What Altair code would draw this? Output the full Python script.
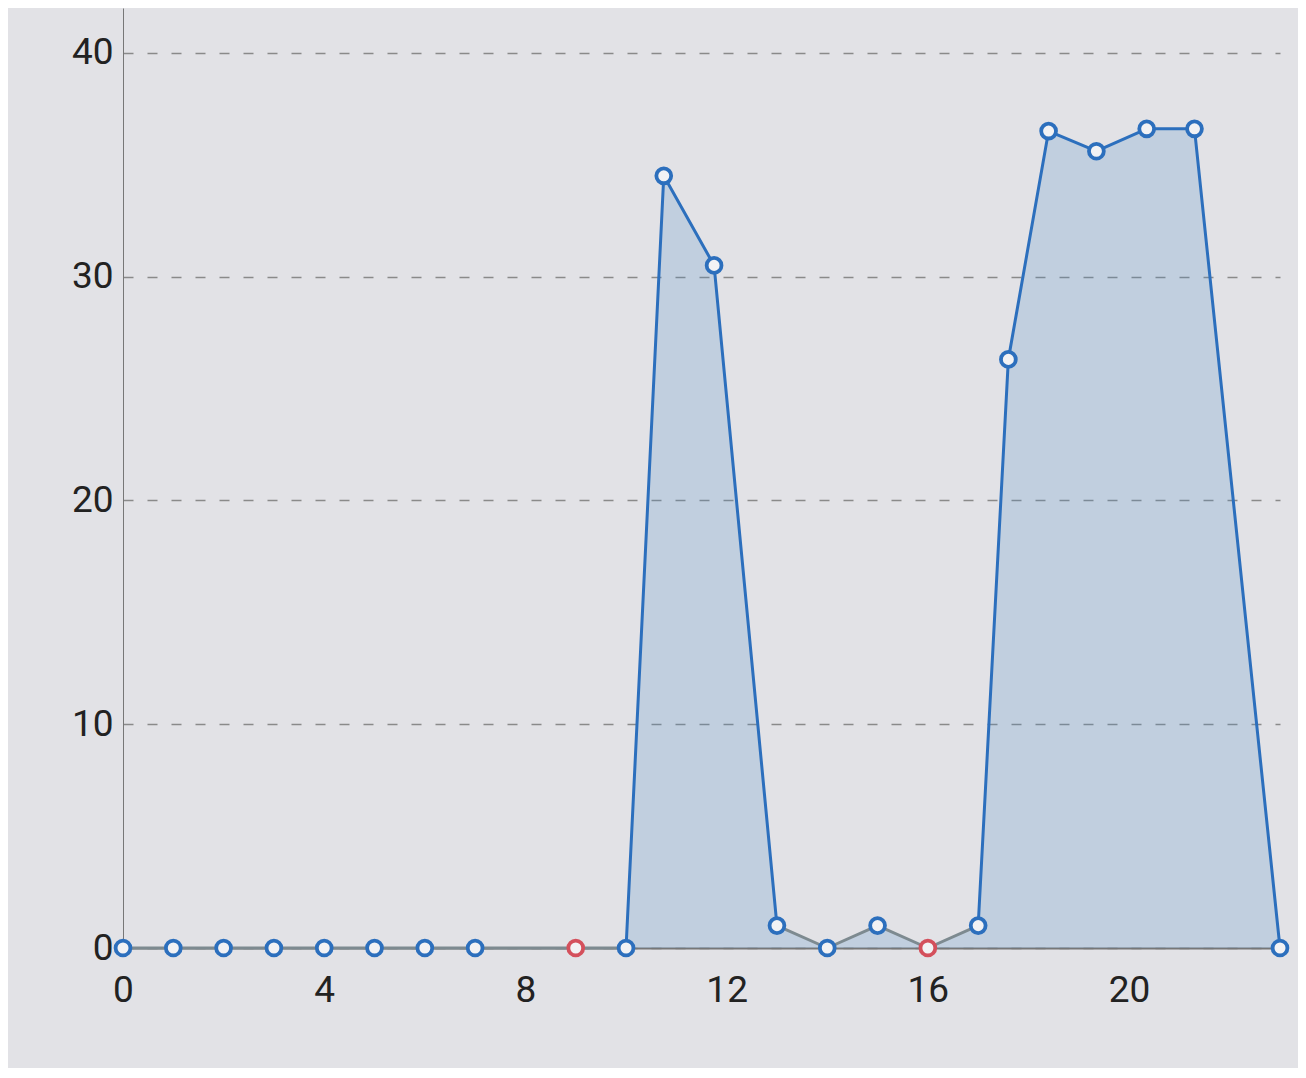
import altair as alt
import pandas as pd

# data
hours = [0, 1, 2, 3, 4, 5, 6, 7, 9, 10, 10.75, 11.75, 13, 14, 15, 16, 17, 17.6, 18.4, 19.35, 20.35, 21.3, 23]
values = [0, 0, 0, 0, 0, 0, 0, 0, 0, 0, 34.5, 30.5, 1, 0, 1, 0, 1, 26.3, 36.5, 35.6, 36.6, 36.6, 0]
status = ["ok"] * 8 + ["alert", "ok", "ok", "ok", "ok", "ok", "ok", "alert"] + ["ok"] * 7
x_ticks = [0, 4, 8, 12, 16, 20]
y_ticks = [0, 10, 20, 30, 40]

BLUE = "#2c6fbd"
GRAY = "#7d8a90"
RED = "#d4505c"

pts = pd.DataFrame({"h": hours, "v": values, "status": status})

seg_rows = []
for i in range(len(hours) - 1):
    lo = max(values[i], values[i + 1]) <= 1
    seg_rows.append({"h": hours[i], "v": values[i], "h2": hours[i + 1], "v2": values[i + 1],
                     "kind": "low" if lo else "high"})
segs = pd.DataFrame(seg_rows)

xs = alt.Scale(domain=[0, 23], nice=False, zero=False)
ys = alt.Scale(domain=[0, 42], nice=False)

x_axis = alt.Axis(values=x_ticks, grid=False, ticks=False, domain=True, domainColor="#777777",
                  domainWidth=2, labelFontSize=37, labelColor="#222222", labelPadding=24,
                  labelFont="Roboto", title=None, labelFlush=False)
y_axis = alt.Axis(values=y_ticks, grid=True, gridDash=[10, 14], gridColor="#8a8a8a", gridWidth=1.5,
                  ticks=False, domain=True, domainColor="#777777", domainWidth=1,
                  labelFontSize=37, labelColor="#222222", labelPadding=10, labelFont="Roboto",
                  title=None)

area = alt.Chart(pts).mark_area(color="#4f8fc8", opacity=0.22, clip=False).encode(
    x=alt.X("h:Q", scale=xs, axis=x_axis),
    y=alt.Y("v:Q", scale=ys, axis=y_axis),
)

lines = alt.Chart(segs).mark_rule(strokeWidth=3, strokeCap="round").encode(
    x=alt.X("h:Q", scale=xs),
    y=alt.Y("v:Q", scale=ys),
    x2="h2:Q",
    y2="v2:Q",
    color=alt.Color("kind:N", scale=alt.Scale(domain=["low", "high"], range=[GRAY, BLUE]), legend=None),
)

points = alt.Chart(pts).mark_point(shape="circle", size=220, strokeWidth=3.8, filled=False,
                                   fill="#f2f2f4", fillOpacity=1, opacity=1, clip=False).encode(
    x=alt.X("h:Q", scale=xs),
    y=alt.Y("v:Q", scale=ys),
    stroke=alt.Stroke("status:N", scale=alt.Scale(domain=["ok", "alert"], range=[BLUE, RED]), legend=None),
)

chart = alt.layer(area, lines, points).properties(
    width=1157,
    height=940,
    background="#e2e2e6",
    autosize=alt.AutoSizeParams(type="none"),
    padding={"left": 115, "top": 0, "right": 18, "bottom": 120},
).configure_view(stroke=None)

chart.save("out.html", embed_options={"renderer": "svg", "actions": False})
